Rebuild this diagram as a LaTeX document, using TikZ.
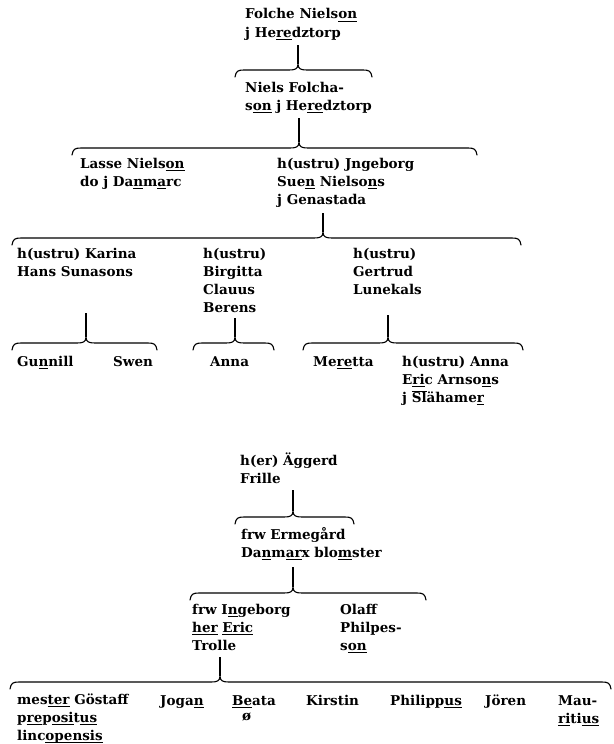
\documentclass[tikz,border=0pt]{standalone}
\usepackage{fontspec}
\setmainfont{DejaVu Serif}
\usetikzlibrary{calc}

% underlined (expanded) letters and a bar over letters
\newcommand\ab[1]{\setbox0\hbox{#1}\rlap{\rule[-3pt]{\wd0}{1.1pt}}\box0\relax}
\newcommand\ob[1]{\setbox0\hbox{#1}\rlap{\rule[10.5pt]{\wd0}{1pt}}\box0\relax}

\begin{document}
\begin{tikzpicture}[
                x=1pt, y=-1pt,
                person/.style={anchor=base west, inner sep=0pt, align=left,
                    font=\fontsize{13.5}{18}\selectfont\bfseries},
                brace/.style={draw=black, line width=1.1pt, line cap=round, line join=round},
                stem/.style={draw=black, line width=1.1pt}]
        \useasboundingbox (0,0) rectangle (613,744);

        % First line of descent (positions are the baseline of the last line).
        \node[person] (folche) at (245,37) {Folche Niels\ab{on}\\j He\ab{re}dztorp};
        \node[person] (niels) at (245,110) {Niels Folcha-\\s\ab{on} j He\ab{re}dztorp};
        \node[person] (lasse) at (80,186) {Lasse Niels\ab{on}\\do j Da\ab{n}m\ab{a}rc};
        \node[person] (jngeborg) at (277,204) {h(ustru) Jngeborg\\Sue\ab{n} Nielso\ab{n}s\\j Genastada};
        \node[person] (karina) at (17,276) {h(ustru) Karina\\Hans Sunasons};
        \node[person] (birgitta) at (203,312) {h(ustru)\\Birgitta\\Clauus\\Berens};
        \node[person] (gertrud) at (353,294) {h(ustru)\\Gertrud\\Lunekals};
        \node[person] (gunnill) at (17,366) {Gu\ab{n}nill};
        \node[person] (swen) at (113,366) {Swen};
        \node[person] (anna) at (210,366) {Anna};
        \node[person] (meretta) at (313,366) {Me\ab{re}tta};
        \node[person] (annaeric) at (402,402) {h(ustru) Anna\\E\ab{ri}c Arnso\ab{n}s\\j \ob{Sl}ähame\ab{r}};

        % Second line of descent.
        \node[person] (aggerd) at (240,483) {h(er) Äggerd\\Frille};
        \node[person] (ermegard) at (241,557) {frw Ermegård\\Da\ab{n}m\ab{ar}x blo\ab{m}ster};
        \node[person] (ingeborg) at (192,650) {frw I\ab{n}geborg\\\ab{her} \ab{Eric}\\Trolle};
        \node[person] (olaff) at (340,650) {Olaff\\Philpes-\\s\ab{on}};
        \node[person] (gostaff) at (17,740) {mes\ab{ter} Göstaff\\p\ab{re}p\ab{osi}t\ab{us}\\linc\ab{opensis}};
        \node[person] (jogan) at (160,705) {Joga\ab{n}};
        \node[person] (beata) at (232,720) {\ab{Be}ata\\[-3pt]\hspace*{10pt}ø};
        \node[person] (kirstin) at (306,705) {Kirstin};
        \node[person] (philippus) at (390,705) {Philipp\ab{us}};
        \node[person] (joren) at (485,705) {Jören};
        \node[person] (mauritius) at (558,723) {Mau-\\\ab{ri}ti\ab{us}};

        % Braces over each group of children: left/cusp/right/height.
        \foreach \l/\c/\r/\y in {235/298/372/70, 72/299/477/148, 12/323/521/238,
                12/86/157/343, 193/235/274/343, 303/388/523/343,
                235/293/354/517, 190/293/426/593, 10/220/611/682} {
                \draw[brace] (\l,\y+7) .. controls (\l+1,\y+1) and (\l+3,\y) .. (\l+9,\y)
                        -- (\c-9,\y) .. controls (\c-3,\y) and (\c,\y-1) .. (\c,\y-6)
                        .. controls (\c,\y-1) and (\c+3,\y) .. (\c+9,\y)
                        -- (\r-9,\y) .. controls (\r-3,\y) and (\r-1,\y+1) .. (\r,\y+7);
        }

        % Cusps where the stems meet the braces.
        \coordinate (k1) at (298,64);
        \coordinate (k2) at (299,142);
        \coordinate (k3) at (323,232);
        \coordinate (k4) at (86,337);
        \coordinate (k5) at (235,337);
        \coordinate (k6) at (388,337);
        \coordinate (k7) at (293,511);
        \coordinate (k8) at (293,587);
        \coordinate (k9) at (220,676);

        % Stems from each parent down to its brace.
        \draw[stem, shorten <=5pt] (k1 |- folche.south) -- (k1);
        \draw[stem, shorten <=5pt] (k2 |- niels.south) -- (k2);
        \draw[stem, shorten <=6pt] (k3 |- jngeborg.south) -- (k3);
        \draw[stem, shorten <=37pt] (k4 |- karina.south) -- (k4);
        \draw[stem, shorten <=6pt] (k5 |- birgitta.south) -- (k5);
        \draw[stem, shorten <=21pt] (k6 |- gertrud.south) -- (k6);
        \draw[stem, shorten <=7pt] (k7 |- aggerd.south) -- (k7);
        \draw[stem, shorten <=7pt] (k8 |- ermegard.south) -- (k8);
        \draw[stem, shorten <=7pt] (k9 |- ingeborg.south) -- (k9);
\end{tikzpicture}
\end{document}
